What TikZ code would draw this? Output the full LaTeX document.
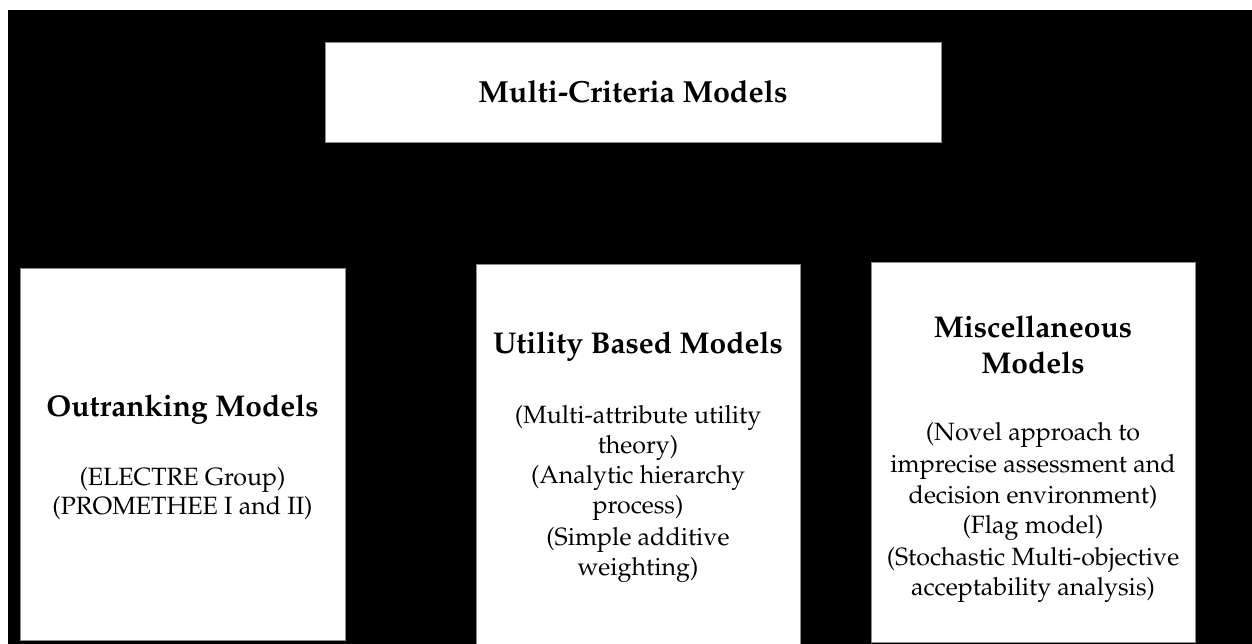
\documentclass[tikz,border=0pt]{standalone}
\usepackage[T1]{fontenc}
\usepackage{mathpazo}
\begin{document}
\begin{tikzpicture}[x=1pt,y=-1pt,
  box/.style={fill=white,draw=black!45,line width=0.8pt},
  ttl/.style={anchor=base,inner sep=0pt,font=\fontsize{30}{32}\selectfont\bfseries},
  txt/.style={anchor=base,inner sep=0pt,font=\fontsize{25}{30}\selectfont}]
\useasboundingbox (0,0) rectangle (1252,644);
\fill[white] (0,0) rectangle (1252,644);
\fill[black] (8,10) rectangle (1252,644);
% boxes
\draw[box] (325,42) rectangle (941,142);
\draw[box] (20,268) rectangle (345,640);
\draw[box] (476,264) rectangle (800,650);
\draw[box] (871,262) rectangle (1195,642);
% top
\node[ttl,font=\fontsize{30.5}{32}\selectfont\bfseries] (t0) at (633,103) {Multi-Criteria Models};
% left
\node[ttl] (l0) at (182.5,416) {Outranking Models};
\node[txt] (l1) at (182.5,485) {(ELECTRE Group)};
\node[txt] (l2) at (182.5,514) {(PROMETHEE I and II)};
% middle
\node[ttl] (m0) at (638,353) {Utility Based Models};
\node[txt] (m1) at (638,423) {(Multi-attribute utility};
\node[txt] (m2) at (638,453) {theory)};
\node[txt] (m3) at (638,483) {(Analytic hierarchy};
\node[txt] (m4) at (638,513) {process)};
\node[txt] (m5) at (638,545) {(Simple additive};
\node[txt] (m6) at (638,575) {weighting)};
% right
\node[ttl] (r0) at (1033,337) {Miscellaneous};
\node[ttl] (r1) at (1033,373) {Models};
\node[txt] (r2) at (1033,440) {(Novel approach to};
\node[txt] (r3) at (1033,472) {imprecise assessment and};
\node[txt] (r4) at (1033,503) {decision environment)};
\node[txt] (r5) at (1033,533) {(Flag model)};
\node[txt] (r6) at (1033,565) {(Stochastic Multi-objective};
\node[txt] (r7) at (1033,595) {acceptability analysis)};
\end{tikzpicture}
\end{document}
